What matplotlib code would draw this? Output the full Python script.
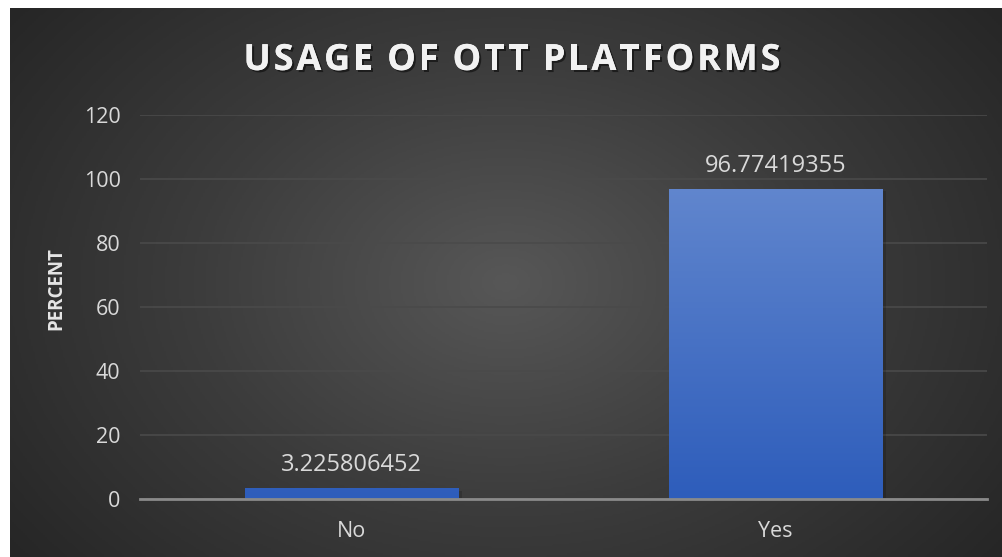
import numpy as np
import matplotlib; matplotlib.use('Agg')
import matplotlib.pyplot as plt
import matplotlib.patheffects as pe
from matplotlib.colors import LinearSegmentedColormap

categories = ['No', 'Yes']
percent = [3.225806452, 96.77419355]
labels = ['3.225806452', '96.77419355']
yticks = [0, 20, 40, 60, 80, 100, 120]
title = 'USAGE OF OTT PLATFORMS'

W, H = 1002, 557
fig = plt.figure(figsize=(W / 100, H / 100), dpi=100)
fig.patch.set_facecolor('white')

# chart area background: radial gradient
bg = fig.add_axes([10 / W, 0, (W - 10) / W, (H - 8) / H])
bg.set_axis_off()
yy, xx = np.mgrid[0:1:300j, 0:1:540j]
r = np.sqrt(((xx - 0.5) * 1.3) ** 2 + (yy - 0.5) ** 2)
r = np.clip(r / 0.82, 0, 1)
bgmap = LinearSegmentedColormap.from_list('bg', ['#575757', '#3c3c3c', '#262626'])
bg.imshow(r, cmap=bgmap, aspect='auto', extent=[0, 1, 0, 1], vmin=0, vmax=1)
bg.set_xlim(0, 1); bg.set_ylim(0, 1)

ax = fig.add_axes([140 / W, (H - 499) / H, (987 - 140) / W, (499 - 115) / H])
ax.patch.set_alpha(0)

barmap = LinearSegmentedColormap.from_list('bar', ['#2e5dbb', '#6287ce'])
width = 0.503
for i, v in enumerate(percent):
    # soft shadow
    ax.bar(i + 0.01, v, width=width, bottom=-0.6, color='black', alpha=0.15, zorder=2)
    grad = np.linspace(0, v / 100, 200).reshape(-1, 1)
    ax.imshow(grad, cmap=barmap, aspect='auto', vmin=0, vmax=1, origin='lower',
              extent=[i - width / 2, i + width / 2, 0, v], zorder=3)
    ax.text(i, v + 5.5, labels[i], ha='center', va='baseline', color='#d9d9d9',
            fontsize=17, family='Open Sans', zorder=4)
ax.set_xlim(-0.5, 1.5)
ax.set_ylim(0, 120)

ax.set_yticks(yticks)
ax.set_xticks(range(len(categories)))
ax.set_xticklabels(categories)
ax.grid(axis='y', color='#4a4a4a', linewidth=1.2, zorder=0)
ax.set_axisbelow(True)
for s in ['top', 'right', 'left']:
    ax.spines[s].set_visible(False)
ax.spines['bottom'].set_color('#8a8a8a')
ax.spines['bottom'].set_linewidth(2)
ax.spines['bottom'].set_zorder(5)
ax.tick_params(axis='both', length=0, colors='#d9d9d9', labelsize=15.5)
ax.tick_params(axis='y', pad=14)
ax.tick_params(axis='x', pad=16)
for t in ax.get_xticklabels() + ax.get_yticklabels():
    t.set_family('Open Sans')

ax.set_ylabel('PERCENT', color='#e6e6e6', fontsize=13.5, fontweight='bold',
              family='Open Sans')
ax.yaxis.set_label_coords((66 - 140) / (987 - 140), (499 - 289) / (499 - 115))

# title with wide letter spacing, placed char by char
renderer = fig.canvas.get_renderer()
shadow = [pe.withSimplePatchShadow(offset=(1.5, -1.5), shadow_rgbFace='black', alpha=0.5),
          pe.Normal()]
widths = []
for ch in title:
    t = fig.text(0, 0, ch if ch != ' ' else 'i', fontsize=26, fontweight='bold',
                 family='Open Sans', color='#f2f2f2')
    widths.append(t.get_window_extent(renderer).width * (0.75 if ch == ' ' else 1))
    t.remove()
spacing = 2.8
total = sum(widths) + spacing * (len(title) - 1)
x = 512 - total / 2
for ch, w in zip(title, widths):
    if ch != ' ':
        fig.text(x / W, 1 - 70 / H, ch, ha='left', va='baseline', fontsize=26,
                 fontweight='bold', family='Open Sans', color='#f2f2f2',
                 path_effects=shadow)
    x += w + spacing

fig.savefig('out.png', dpi=100, facecolor=fig.get_facecolor())
